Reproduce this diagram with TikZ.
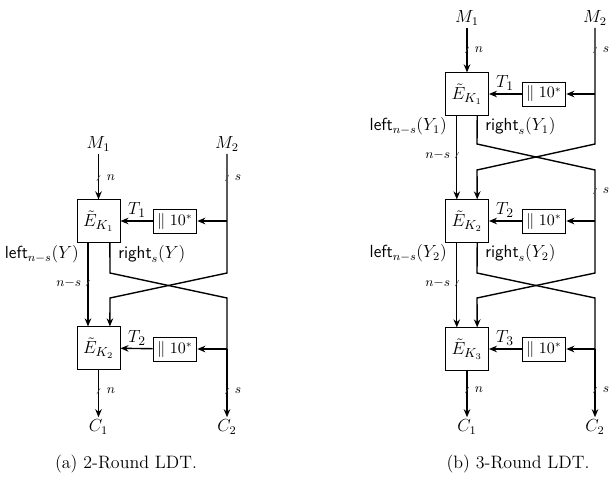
\documentclass[tikz,border=0pt]{standalone}
\usetikzlibrary{arrows.meta,calc}
\newcommand{\mytick}[1]{\draw[tickline] ($(#1)+(-1.8,3)$) -- ($(#1)+(1.8,-3)$);}
\begin{document}
\begin{tikzpicture}[x=0.685pt,y=-0.685pt,
  wire/.style={line width=0.95pt},
  arr/.style={line width=0.95pt,-{Stealth[length=5.5pt,width=4.5pt]}},
  tickline/.style={line width=0.3pt,black!70},
  ebox/.style={draw,line width=0.6pt,minimum width=29.5pt,minimum height=29pt,inner sep=0pt,font=\fontsize{13}{15}\selectfont},
  padbox/.style={draw,line width=0.6pt,minimum width=30pt,minimum height=16.4pt,inner sep=0pt,font=\fontsize{10.5}{12}\selectfont},
  io/.style={inner sep=1.5pt,font=\fontsize{12}{14}\selectfont},
  tlab/.style={font=\fontsize{9}{11}\selectfont,inner sep=1pt},
  tname/.style={font=\fontsize{12.5}{14}\selectfont,inner sep=1pt},
  ylab/.style={font=\fontsize{12}{14}\selectfont,inner sep=0pt},
  captext/.style={font=\fontsize{12.3}{14}\selectfont}]
\useasboundingbox (0,0) rectangle (616,480);
% ---------------- (a)
\node[io] (aM1) at (98.5,144) {$M_1$};
\node[io] (aM2) at (227,144) {$M_2$};
\node[ebox] (aE1) at (98.5,221) {$\tilde{E}_{K_1}$};
\node[padbox] (aP1) at (175,221) {$\|\;10^{*}$};
\node[ebox] (aE2) at (98.5,348) {$\tilde{E}_{K_2}$};
\node[padbox] (aP2) at (175,349) {$\|\;10^{*}$};
\node[io] (aC1) at (98.5,427) {$C_1$};
\node[io] (aC2) at (227,427) {$C_2$};
\coordinate (aJ1) at (227,221);
\coordinate (aJ2) at (227,349);
\draw[arr] (aM1) -- (aE1);
\draw[arr] (aM2) -- (227,273) -- (110,298) -- ([xshift=7.8pt]aE2.north);
\draw[arr] (aJ1) -- (aP1);
\draw[arr] (aP1) -- (aE1);
\draw[arr] ([xshift=-7.2pt]aE1.south) -- ([xshift=-7.2pt]aE2.north);
\draw[wire] ([xshift=7.8pt]aE1.south) -- (110,273) -- (227,298) -- (aJ2);
\draw[arr] (aJ2) -- (aC2);
\draw[arr] (aJ2) -- (aP2);
\draw[arr] (aP2) -- (aE2);
\draw[arr] (aE2) -- (aC1);
\node[tname] at (137,210) {$T_1$};
\node[tname] at (137,338) {$T_2$};
\node[ylab,anchor=east] at (79,254) {$\textsf{left}_{n-s}(Y)$};
\node[ylab,anchor=west] at (118,254) {$\textsf{right}_{s}(Y)$};
\coordinate (at1) at (98.5,178); \mytick{at1}
\node[tlab,anchor=west] at (105,178) {$n$};
\coordinate (at2) at (227,178); \mytick{at2}
\node[tlab,anchor=west] at (233,178) {$s$};
\coordinate (at3) at (87.8,283); \mytick{at3}
\node[tlab,anchor=east] at (83,283) {$n{-}s$};
\coordinate (at4) at (98.5,391); \mytick{at4}
\node[tlab,anchor=west] at (105,391) {$n$};
\coordinate (at5) at (227,391); \mytick{at5}
\node[tlab,anchor=west] at (233,391) {$s$};
\node[captext] at (126,464) {(a) 2-Round LDT.};
% ---------------- (b)
\node[io] (bM1) at (467,18) {$M_1$};
\node[io] (bM2) at (595,18) {$M_2$};
\node[ebox] (bE1) at (467,94) {$\tilde{E}_{K_1}$};
\node[padbox] (bP1) at (544,94) {$\|\;10^{*}$};
\node[ebox] (bE2) at (467,221) {$\tilde{E}_{K_2}$};
\node[padbox] (bP2) at (544,221) {$\|\;10^{*}$};
\node[ebox] (bE3) at (467,349) {$\tilde{E}_{K_3}$};
\node[padbox] (bP3) at (544,349) {$\|\;10^{*}$};
\node[io] (bC1) at (467,427) {$C_1$};
\node[io] (bC2) at (595,427) {$C_2$};
\coordinate (bJ1) at (595,94);
\coordinate (bJ2) at (595,221);
\coordinate (bJ3) at (595,349);
\draw[arr] (bM1) -- (bE1);
\draw[arr] (bJ1) -- (bP1);
\draw[arr] (bP1) -- (bE1);
\draw[arr] (bM2) -- (595,144) -- (477,170) -- ([xshift=7pt]bE2.north);
\draw[wire] ([xshift=7pt]bE1.south) -- (477,144) -- (595,170) -- (bJ2);
\draw[arr] ([xshift=-7pt]bE1.south) -- ([xshift=-7pt]bE2.north);
\draw[arr] (bJ2) -- (bP2);
\draw[arr] (bP2) -- (bE2);
\draw[arr] (bJ2) -- (595,273) -- (477,298) -- ([xshift=7pt]bE3.north);
\draw[wire] ([xshift=7pt]bE2.south) -- (477,273) -- (595,298) -- (bJ3);
\draw[arr] ([xshift=-7pt]bE2.south) -- ([xshift=-7pt]bE3.north);
\draw[arr] (bJ3) -- (bP3);
\draw[arr] (bP3) -- (bE3);
\draw[arr] (bJ3) -- (bC2);
\draw[arr] (bE3) -- (bC1);
\node[tname] at (505,83) {$T_1$};
\node[tname] at (505,210) {$T_2$};
\node[tname] at (505,338) {$T_3$};
\node[ylab,anchor=east] at (447,126) {$\textsf{left}_{n-s}(Y_1)$};
\node[ylab,anchor=west] at (485,126) {$\textsf{right}_{s}(Y_1)$};
\node[ylab,anchor=east] at (447,253) {$\textsf{left}_{n-s}(Y_2)$};
\node[ylab,anchor=west] at (485,253) {$\textsf{right}_{s}(Y_2)$};
\coordinate (bt1) at (467,50); \mytick{bt1}
\node[tlab,anchor=west] at (473,50) {$n$};
\coordinate (bt2) at (595,50); \mytick{bt2}
\node[tlab,anchor=west] at (601,50) {$s$};
\coordinate (bt3) at (457,155); \mytick{bt3}
\node[tlab,anchor=east] at (452,155) {$n{-}s$};
\coordinate (bt4) at (595,191); \mytick{bt4}
\node[tlab,anchor=west] at (601,191) {$s$};
\coordinate (bt5) at (457,283); \mytick{bt5}
\node[tlab,anchor=east] at (452,283) {$n{-}s$};
\coordinate (bt6) at (467,390); \mytick{bt6}
\node[tlab,anchor=west] at (473,390) {$n$};
\coordinate (bt7) at (595,390); \mytick{bt7}
\node[tlab,anchor=west] at (601,390) {$s$};
\node[captext] at (518,464) {(b) 3-Round LDT.};
\end{tikzpicture}
\end{document}
